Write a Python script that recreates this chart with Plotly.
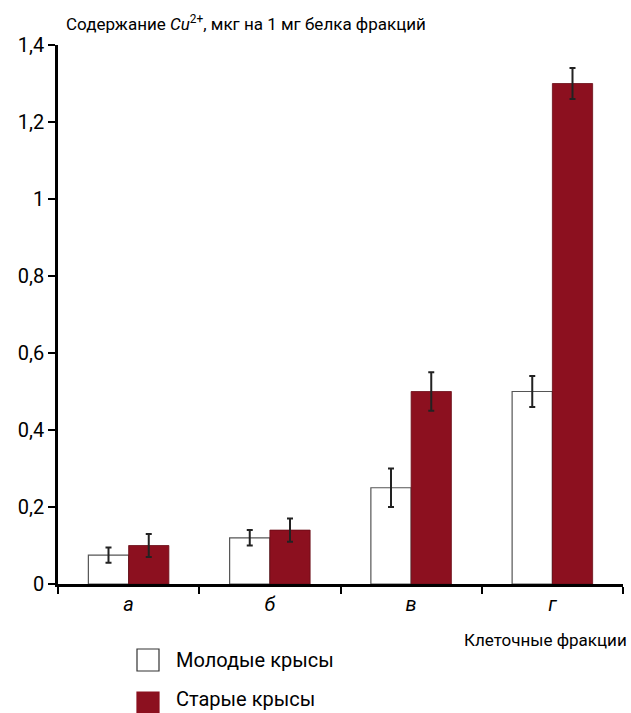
import plotly.graph_objects as go

categories = ["a", "б", "в", "г"]
young = [0.075, 0.12, 0.25, 0.5]
young_err = [0.02, 0.02, 0.05, 0.04]
old = [0.1, 0.14, 0.5, 1.3]
old_err = [0.03, 0.03, 0.05, 0.04]
y_ticks = [0, 0.2, 0.4, 0.6, 0.8, 1.0, 1.2, 1.4]
y_tick_labels = ["0", "0,2", "0,4", "0,6", "0,8", "1", "1,2", "1,4"]
series_names = ["Молодые крысы", "Старые крысы"]

RED = "#8c101f"
FONT = "Roboto"

# plot area in screen pixels: x 58..623, y 45..584
PX0, PX1, PY0, PY1 = 58, 623, 45, 584
PW, PH = PX1 - PX0, PY1 - PY0

def fx(px):
    return (px - PX0) / PW

def fy(py):
    return (PY1 - py) / PH

fig = go.Figure()
fig.add_bar(x=categories, y=young, name=series_names[0],
            marker=dict(color="white", line=dict(color="#555555", width=1.2)),
            error_y=dict(type="data", array=young_err, color="#222222", thickness=2, width=3),
            showlegend=False)
fig.add_bar(x=categories, y=old, name=series_names[1],
            marker=dict(color=RED, line=dict(color="#6a0c17", width=0.8)),
            error_y=dict(type="data", array=old_err, color="#222222", thickness=2, width=3),
            showlegend=False)

fig.update_layout(
    width=631, height=713,
    margin=dict(l=PX0, r=631 - PX1, t=PY0, b=713 - PY1),
    plot_bgcolor="white", paper_bgcolor="white",
    barmode="group", bargap=0.43, bargroupgap=0,
    font=dict(family=FONT, color="black"),
)
fig.update_xaxes(
    showline=True, linecolor="black", linewidth=2.5,
    ticks="outside", tickson="boundaries", ticklen=7, tickwidth=2, tickcolor="black",
    tickfont=dict(size=20, family=FONT), tickprefix="<i>", ticksuffix="</i>",
    showgrid=False, zeroline=False,
)
fig.update_yaxes(
    range=[0, 1.4], tickvals=y_ticks, ticktext=y_tick_labels,
    showline=True, linecolor="black", linewidth=2.5,
    ticks="outside", ticklen=7, tickwidth=2, tickcolor="black",
    tickfont=dict(size=20, family=FONT),
    showgrid=False, zeroline=False,
)

# axis titles
fig.add_annotation(text="Содержание <i>Cu</i><sup>2+</sup>, мкг на 1 мг белка фракций",
                   xref="paper", yref="paper", x=fx(64), y=fy(23), xanchor="left", yanchor="middle",
                   showarrow=False, font=dict(size=17, family=FONT))
fig.add_annotation(text="Клеточные фракции", xref="paper", yref="paper",
                   x=fx(629), y=fy(640), xanchor="right", yanchor="middle",
                   showarrow=False, font=dict(size=17, family=FONT))

# legend (manual)
legend_items = [(series_names[0], "white", 660, 660), (series_names[1], RED, 703, 699)]
for name, col, yc, ytext in legend_items:
    fig.add_shape(type="rect", xref="paper", yref="paper",
                  x0=fx(137), x1=fx(159),
                  y0=fy(yc + 11), y1=fy(yc - 11),
                  fillcolor=col, line=dict(color="#333333" if col == "white" else col, width=1.2))
    fig.add_annotation(text=name, xref="paper", yref="paper",
                       x=fx(174), y=fy(ytext), xanchor="left", yanchor="middle",
                       showarrow=False, font=dict(size=20, family=FONT))

fig.write_html("out.html", config={"displayModeBar": False},
               post_script="document.body.style.margin='0';document.body.style.overflow='hidden';")
